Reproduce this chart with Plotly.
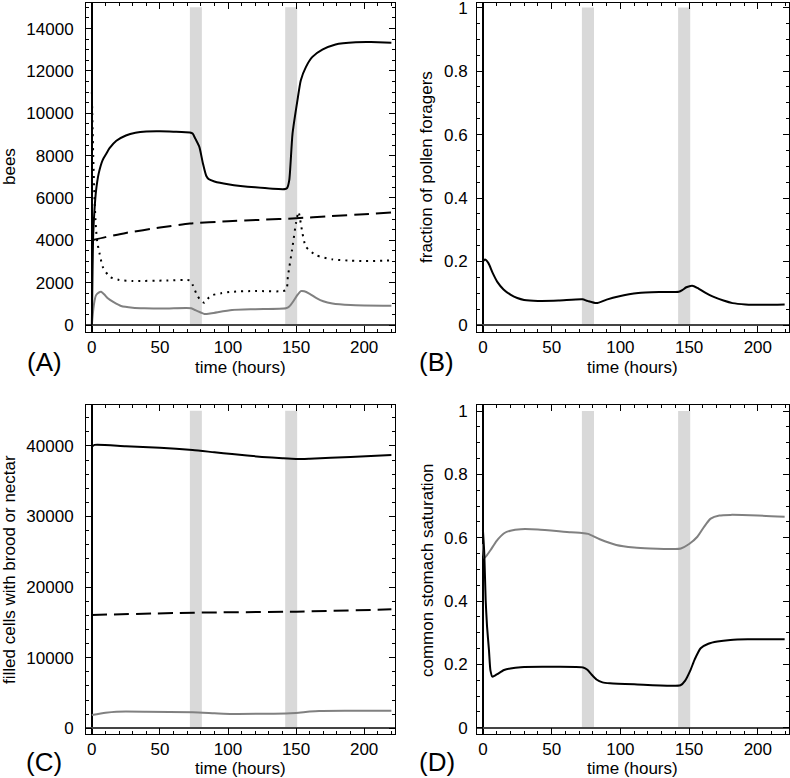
import plotly.graph_objects as go

# ---------------- data ----------------
# Panel A: bees
a_total_t = [0, 0.5, 1, 2, 3, 5, 8, 10.7, 13, 18, 25, 32, 40, 50, 60, 72, 74, 76, 79, 81.5, 84, 86, 90, 100, 120, 142, 143.5, 145, 147.4, 151, 153.5, 157.2, 162, 169.3, 179, 193.8, 205, 220]
a_total_v = [0, 2500, 4300, 5500, 6300, 7150, 7800, 8100, 8350, 8700, 8950, 9080, 9140, 9150, 9130, 9090, 9040, 8800, 8400, 7650, 7050, 6880, 6780, 6650, 6500, 6420, 6480, 6840, 9040, 10610, 11560, 12180, 12660, 13000, 13250, 13350, 13360, 13330]

a_dash_t = [0, 10, 25, 50, 72, 100, 125, 150, 175, 200, 220]
a_dash_v = [4000, 4150, 4350, 4600, 4790, 4900, 4970, 5040, 5140, 5230, 5310]

a_dot_t = [0, 1, 2, 3, 4, 5.6, 8, 13, 20, 30, 55, 72, 74, 77, 80, 82.7, 86, 88.8, 95, 103, 120, 142.5, 144, 147.4, 149.9, 151.8, 154.7, 157.2, 164.5, 176.7, 190, 201, 220]
a_dot_v = [11000, 8000, 5900, 4600, 3900, 3400, 2750, 2280, 2130, 2080, 2100, 2100, 1900, 1450, 1150, 1050, 1300, 1415, 1500, 1570, 1610, 1650, 2300, 3700, 4800, 5340, 4330, 3700, 3300, 3100, 3040, 3020, 3050]

a_grey_t = [0, 1, 2, 3, 5, 6.8, 9, 11.7, 16, 21.5, 30, 38.6, 55, 73, 76, 80, 82.7, 88, 103, 120, 142.5, 145, 148, 151, 153.5, 156, 160, 165, 170, 176.7, 190, 220]
a_grey_v = [0, 700, 1150, 1400, 1530, 1570, 1450, 1260, 1080, 900, 820, 790, 780, 790, 700, 590, 520, 560, 710, 750, 790, 870, 1120, 1420, 1600, 1590, 1470, 1270, 1120, 1020, 950, 910]

# Panel B: fraction of pollen foragers
b_t = [0, 1.5, 4, 7, 10.6, 15, 20.3, 25, 30, 40, 55, 72.4, 76, 82.6, 90, 98.5, 113, 130, 142.5, 145, 148, 152.3, 156, 162, 167, 175, 181.6, 191, 205, 219.5]
b_v = [0.200, 0.206, 0.195, 0.165, 0.135, 0.112, 0.095, 0.085, 0.079, 0.076, 0.077, 0.081, 0.076, 0.069, 0.080, 0.090, 0.101, 0.104, 0.105, 0.110, 0.119, 0.124, 0.117, 0.101, 0.090, 0.077, 0.069, 0.065, 0.064, 0.065]

# Panel C: filled cells
c_total_t = [0, 2, 25, 50, 74, 90, 103, 125, 140, 150, 160, 190, 220]
c_total_v = [39900, 40150, 39950, 39750, 39420, 39100, 38850, 38450, 38250, 38150, 38200, 38450, 38710]
c_dash_t = [0, 75, 150, 220]
c_dash_v = [16050, 16380, 16520, 16850]
c_grey_t = [0, 10, 18, 40, 74, 90, 103, 125, 142.5, 150, 160, 167, 190, 220]
c_grey_v = [1880, 2200, 2350, 2350, 2260, 2130, 2030, 2060, 2100, 2180, 2360, 2450, 2480, 2490]

# Panel D: common stomach saturation
d_grey_t = [0, 1, 3, 5.6, 10, 15.4, 20, 27.6, 40, 64, 72, 76.5, 85, 97, 110, 121.7, 140, 144, 150, 156, 161, 165.7, 172, 180, 200, 219.5]
d_grey_v = [0.58, 0.535, 0.545, 0.561, 0.59, 0.614, 0.622, 0.627, 0.626, 0.617, 0.615, 0.612, 0.595, 0.577, 0.569, 0.566, 0.564, 0.566, 0.58, 0.603, 0.635, 0.660, 0.670, 0.672, 0.670, 0.666]
d_black_t = [0, 1, 2, 3, 4.4, 5.5, 6.9, 10, 15.4, 20, 27.6, 50, 72.9, 76, 79, 82.6, 87, 92.4, 110, 143.7, 147, 151, 154, 158.4, 164, 170.6, 180, 192.6, 219.5]
d_black_v = [0.625, 0.55, 0.403, 0.32, 0.245, 0.18, 0.161, 0.168, 0.182, 0.187, 0.191, 0.192, 0.190, 0.183, 0.168, 0.152, 0.143, 0.140, 0.137, 0.134, 0.148, 0.182, 0.215, 0.251, 0.265, 0.272, 0.277, 0.279, 0.279]

night_intervals = [(72, 80.8), (142, 150.8)]
bar_tops = {"A": 15000, "B": 1, "C": 45000, "D": 1}

x_ticks = [0, 50, 100, 150, 200]
a_yticks = [0, 2000, 4000, 6000, 8000, 10000, 12000, 14000]
c_yticks = [0, 10000, 20000, 30000, 40000]
frac_ticks = [0, 0.2, 0.4, 0.6, 0.8, 1]
frac_labels = ["0", "0.2", "0.4", "0.6", "0.8", "1"]

# ---------------- figure ----------------
W, H = 790, 778
fig = go.Figure()

FONT = "Liberation Sans, Arial, Helvetica, sans-serif"
BLACK = "#000000"
GREY = "#808080"

def px_x(p):
    return p / W

def px_y(p):
    return 1 - p / H

xdom_l = [px_x(86), px_x(394.5)]
xdom_r = [px_x(477), px_x(788.5)]
ydom_t = [px_y(332), px_y(2.5)]
ydom_b = [px_y(734), px_y(405)]

panels = {
    "A": dict(xa="x", ya="y", xdom=xdom_l, ydom=ydom_t, yr=[-330, 15230], tv=a_yticks, tt=[str(v) for v in a_yticks], mdt=500, so=8),
    "B": dict(xa="x2", ya="y2", xdom=xdom_r, ydom=ydom_t, yr=[-0.022, 1.016], tv=frac_ticks, tt=frac_labels, mdt=0.05, so=5),
    "C": dict(xa="x3", ya="y3", xdom=xdom_l, ydom=ydom_b, yr=[-810, 45800], tv=c_yticks, tt=[str(v) for v in c_yticks], mdt=2000, so=8),
    "D": dict(xa="x4", ya="y4", xdom=xdom_r, ydom=ydom_b, yr=[-0.02, 1.019], tv=frac_ticks, tt=frac_labels, mdt=0.05, so=5),
}

def add_line(panel, t, v, color, width, dash=None):
    p = panels[panel]
    fig.add_trace(go.Scatter(
        x=t, y=v, mode="lines", xaxis=p["xa"], yaxis=p["ya"],
        line=dict(color=color, width=width, dash=dash, shape="spline", smoothing=0.6),
        hoverinfo="skip", showlegend=False))

add_line("A", a_grey_t, a_grey_v, GREY, 2)
add_line("A", a_dash_t, a_dash_v, BLACK, 2, "15px,7px")
add_line("A", a_dot_t, a_dot_v, BLACK, 2, "2px,5px")
add_line("A", a_total_t, a_total_v, BLACK, 2)
add_line("B", b_t, b_v, BLACK, 2)
add_line("C", c_grey_t, c_grey_v, GREY, 2)
add_line("C", c_dash_t, c_dash_v, BLACK, 2, "15px,7px")
add_line("C", c_total_t, c_total_v, BLACK, 2)
add_line("D", d_grey_t, d_grey_v, GREY, 2)
add_line("D", d_black_t, d_black_v, BLACK, 2)

shapes = []
for name, p in panels.items():
    for (a, b) in night_intervals:
        shapes.append(dict(type="rect", xref=p["xa"], yref=p["ya"], x0=a, x1=b,
                           y0=0, y1=bar_tops[name], fillcolor="#d9d9d9",
                           line=dict(width=0), layer="below"))
fig.update_layout(shapes=shapes)

layout = {}
for i, (name, p) in enumerate(panels.items()):
    suf = "" if i == 0 else str(i + 1)
    layout["xaxis" + suf] = dict(
        domain=p["xdom"], anchor=p["ya"], range=[-4.3, 222.3],
        tickmode="array", tickvals=x_ticks, ticktext=[str(v) for v in x_ticks],
        ticks="inside", ticklen=6, tickcolor=BLACK, ticklabeloverflow="allow",
        minor=dict(tickmode="linear", dtick=10, tick0=0, ticks="inside", ticklen=3, tickcolor=BLACK),
        showline=True, linecolor=BLACK, linewidth=1, mirror="allticks",
        showgrid=False, zeroline=True, zerolinecolor=BLACK, zerolinewidth=1.5,
        tickfont=dict(family=FONT, size=17, color=BLACK))
    layout["yaxis" + suf] = dict(
        domain=p["ydom"], anchor=p["xa"], range=p["yr"],
        tickmode="array", tickvals=p["tv"], ticktext=p["tt"],
        ticks="inside", ticklen=6, tickcolor=BLACK, ticklabeloverflow="allow",
        ticklabelstandoff=p["so"],
        minor=dict(tickmode="linear", dtick=p["mdt"], tick0=0, ticks="inside", ticklen=3, tickcolor=BLACK),
        showline=True, linecolor=BLACK, linewidth=1, mirror="allticks",
        showgrid=False, zeroline=True, zerolinecolor="#444444", zerolinewidth=2,
        tickfont=dict(family=FONT, size=17, color=BLACK))
fig.update_layout(**layout)

ann = []
def text(s, x, y, size=17, angle=0):
    ann.append(dict(text=s, x=px_x(x), y=px_y(y), xref="paper", yref="paper",
                    showarrow=False, textangle=angle, xanchor="center", yanchor="middle",
                    font=dict(family=FONT, size=size, color=BLACK)))

text("(A)", 44, 362, 26)
text("(B)", 437, 362, 26)
text("(C)", 44, 762, 26)
text("(D)", 437, 762, 26)
text("time (hours)", 240, 367)
text("time (hours)", 632, 367)
text("time (hours)", 240, 768)
text("time (hours)", 632, 768)
text("bees", 10, 167, 17, -90)
text("fraction of pollen foragers", 427, 167, 17, -90)
text("filled cells with brood or nectar", 9, 570, 17, -90)
text("common stomach saturation", 427, 570, 17, -90)

fig.update_layout(
    annotations=ann, width=W, height=H,
    margin=dict(l=0, r=0, t=0, b=0, autoexpand=False),
    paper_bgcolor="white", plot_bgcolor="white", showlegend=False)

fig.write_html("out.html", config={"displayModeBar": False},
               post_script="document.body.style.margin='0';document.body.style.overflow='hidden';")
